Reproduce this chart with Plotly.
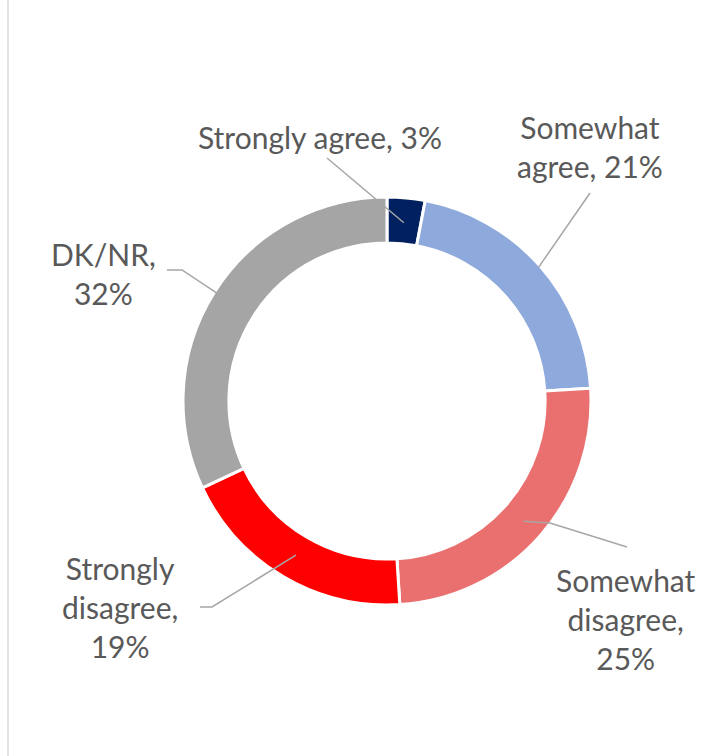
import math
import plotly.graph_objects as go

# Survey responses, clockwise from 12 o'clock
labels = ["Strongly agree", "Somewhat agree", "Somewhat disagree", "Strongly disagree", "DK/NR"]
values = [3, 21, 25, 19, 32]
colors = ["#002060", "#8EA9DB", "#EA7070", "#FF0000", "#A5A5A5"]

# Label text lines
label_lines = [
    ["Strongly agree, 3%"],
    ["Somewhat", "agree, 21%"],
    ["Somewhat", "disagree,", "25%"],
    ["Strongly", "disagree,", "19%"],
    ["DK/NR,", "32%"],
]

W, H = 723, 756
CX, CY, R = 387, 401, 204      # ring centre and outer radius, px
HOLE = 0.775

# Label block centres (px) and leader-line tails (px, from the label side)
label_pos = [(320, 137), (590, 147), (626, 619), (120, 607), (103, 273)]
leader_tail = [[(327, 158)], [(590, 193)], [(627, 547), (550, 523)],
               [(200, 607), (212, 607)], [(167, 270), (182, 270)]]
leader_r = [179, 202, 182, 179, 201]   # radius where the leader touches the ring

def px_to_paper(x, y):
    return x / W, 1 - y / H

fig = go.Figure(go.Pie(
    labels=labels, values=values, sort=False, direction="clockwise", rotation=0,
    hole=HOLE, textinfo="none", hoverinfo="label+percent",
    marker=dict(colors=colors, line=dict(color="white", width=3)),
    domain=dict(x=[(CX - R) / W, (CX + R) / W], y=[1 - (CY + R) / H, 1 - (CY - R) / H]),
    showlegend=False,
))

total = sum(values)
cum = 0
shapes = []
annotations = []
for i, v in enumerate(values):
    mid = (cum + v / 2) / total * 2 * math.pi
    cum += v
    ex = CX + leader_r[i] * math.sin(mid)
    ey = CY - leader_r[i] * math.cos(mid)
    pts = leader_tail[i] + [(ex, ey)]
    path = "M " + " L ".join(f"{px_to_paper(x, y)[0]:.5f},{px_to_paper(x, y)[1]:.5f}" for x, y in pts)
    shapes.append(dict(type="path", path=path, xref="paper", yref="paper",
                       line=dict(color="#A6A6A6", width=1.5)))
    lx, ly = label_pos[i]
    px, py = px_to_paper(lx, ly)
    annotations.append(dict(
        x=px, y=py, xref="paper", yref="paper", showarrow=False,
        text="<br>".join(label_lines[i]), align="center",
        xanchor="center", yanchor="middle",
        font=dict(family="Lato, Open Sans, sans-serif", size=30, color="#595959"),
    ))

# thin frame line down the left edge
shapes.append(dict(type="line", xref="paper", yref="paper", x0=8 / W, x1=8 / W, y0=0, y1=1,
                   line=dict(color="#C8C8C8", width=1)))

fig.update_layout(
    width=W, height=H, margin=dict(l=0, r=0, t=0, b=0),
    paper_bgcolor="white", plot_bgcolor="white",
    shapes=shapes, annotations=annotations,
)

fig.write_html("out.html")
